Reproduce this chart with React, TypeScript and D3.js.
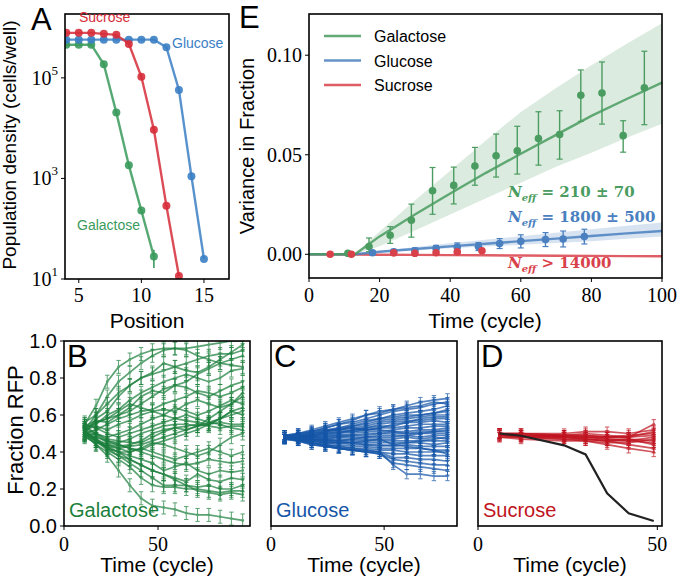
import React from 'react';
import * as d3 from 'd3';

const SANS = "'Liberation Sans', Arial, sans-serif";
const SERIF = "'Liberation Serif', 'Times New Roman', serif";
const MATH = "'DejaVu Serif', serif";

// ---------- Panel A ----------
const positionsA = [4, 5, 6, 7, 8, 9, 10, 11, 12, 13, 14, 15];
const sucroseDensity = [785000, 785000, 785000, 750000, 716000, 474000, 105000, 9250, 285, 11.5];
const glucoseDensity = [575000, 575000, 575000, 575000, 575000, 575000, 575000, 575000, 407000, 57500, 1100, 25];
const galactoseDensity = [457000, 457000, 457000, 186000, 20400, 1820, 229, 28];
const galactoseLastErr = [16.6, 38];
const xTicksA = [5, 10, 15];
const yTicksA = [1, 3, 5];

// ---------- Panel E ----------
const galT = [11, 17, 23, 29, 35, 41, 47, 53, 59, 65, 71, 77, 83, 89, 95];
const galV = [0.0005, 0.0039, 0.0096, 0.0171, 0.0319, 0.0346, 0.0443, 0.0495, 0.052, 0.0582, 0.0602, 0.0799, 0.081, 0.0596, 0.0836];
const galHi = [0.001, 0.0082, 0.0139, 0.0252, 0.0436, 0.0438, 0.0537, 0.0604, 0.0643, 0.0716, 0.0721, 0.0926, 0.0966, 0.0671, 0.102];
const galLo = [0, 0.0013, 0.0055, 0.0086, 0.0201, 0.0253, 0.0347, 0.0388, 0.0403, 0.0448, 0.0478, 0.0668, 0.0654, 0.0513, 0.0651];
const gluT = [18, 24, 30, 36, 42, 48, 54, 60, 67, 72, 78];
const gluV = [0.0008, 0.0013, 0.0018, 0.0029, 0.0037, 0.0039, 0.0054, 0.0065, 0.0074, 0.0077, 0.0089];
const gluErr = [0.001, 0.0012, 0.0014, 0.0016, 0.002, 0.002, 0.0025, 0.0033, 0.0035, 0.004, 0.0037];
const sucT = [6, 12, 24, 30, 36, 42, 49];
const sucV = [0, 0, 0.0007, 0.0005, 0.0008, 0.0012, 0.0018];
const fitT = [0, 13, 20, 30, 40, 50, 60, 70, 80, 90, 100];
const galFit = [0, 0, 0.009, 0.02, 0.0305, 0.0408, 0.0505, 0.06, 0.0695, 0.078, 0.0862];
const galUpper = [0, 0, 0.0115, 0.027, 0.042, 0.057, 0.0715, 0.0835, 0.095, 0.1058, 0.116];
const galLower = [0, 0, 0.004, 0.012, 0.02, 0.028, 0.036, 0.044, 0.051, 0.0585, 0.0656];
const gluFit = [0, 0, 0.0013, 0.0027, 0.004, 0.0053, 0.0066, 0.0079, 0.0092, 0.0105, 0.0117];
const gluUpper = [0, 0, 0.0017, 0.0037, 0.0055, 0.0073, 0.0091, 0.0108, 0.0126, 0.0143, 0.016];
const gluLower = [0, 0, 0.001, 0.002, 0.003, 0.0039, 0.0048, 0.0057, 0.0066, 0.0078, 0.0089];
const sucFit = [0, -0.0001, -0.0002, -0.0003, -0.0004, -0.0005, -0.0006, -0.0007, -0.0008, -0.0009, -0.001];
const xTicksE = [0, 20, 40, 60, 80, 100];
const yTicksE = [0, 0.05, 0.1];
const legendE = ['Galactose', 'Glucose', 'Sucrose'];

// ---------- Panels B, C, D ----------
const tB = [11, 17, 23, 29, 35, 41, 47, 53, 59, 65, 71, 77, 83, 89, 95];
const galactoseRuns = [
  [0.55, 0.65, 0.78, 0.86, 0.9, 0.93, 0.95, 0.96, 0.96, 0.96, 0.97, 0.98, 0.99, 1.0, 1.0],
  [0.52, 0.6, 0.7, 0.78, 0.83, 0.88, 0.92, 0.95, 0.96, 0.95, 0.92, 0.9, 0.88, 0.87, 0.86],
  [0.5, 0.58, 0.62, 0.7, 0.76, 0.8, 0.83, 0.88, 0.86, 0.84, 0.83, 0.86, 0.9, 0.94, 0.98],
  [0.53, 0.55, 0.6, 0.63, 0.68, 0.72, 0.75, 0.78, 0.8, 0.82, 0.8, 0.78, 0.8, 0.84, 0.85],
  [0.51, 0.56, 0.58, 0.6, 0.64, 0.7, 0.73, 0.72, 0.76, 0.78, 0.82, 0.85, 0.88, 0.9, 0.92],
  [0.54, 0.57, 0.56, 0.6, 0.62, 0.66, 0.7, 0.74, 0.76, 0.75, 0.72, 0.7, 0.73, 0.76, 0.78],
  [0.5, 0.52, 0.55, 0.58, 0.6, 0.62, 0.63, 0.66, 0.68, 0.7, 0.73, 0.72, 0.7, 0.72, 0.75],
  [0.52, 0.54, 0.52, 0.55, 0.57, 0.6, 0.62, 0.63, 0.62, 0.66, 0.68, 0.66, 0.64, 0.66, 0.7],
  [0.49, 0.5, 0.48, 0.5, 0.52, 0.55, 0.58, 0.6, 0.64, 0.62, 0.6, 0.62, 0.65, 0.68, 0.66],
  [0.55, 0.53, 0.5, 0.48, 0.5, 0.52, 0.54, 0.56, 0.58, 0.6, 0.58, 0.56, 0.58, 0.62, 0.6],
  [0.51, 0.48, 0.46, 0.45, 0.47, 0.5, 0.52, 0.54, 0.55, 0.55, 0.54, 0.55, 0.56, 0.55, 0.55],
  [0.5, 0.46, 0.44, 0.43, 0.44, 0.46, 0.5, 0.52, 0.53, 0.54, 0.55, 0.54, 0.53, 0.54, 0.54],
  [0.53, 0.5, 0.47, 0.46, 0.45, 0.45, 0.48, 0.51, 0.53, 0.52, 0.54, 0.56, 0.55, 0.53, 0.52],
  [0.48, 0.45, 0.43, 0.42, 0.43, 0.44, 0.46, 0.48, 0.5, 0.52, 0.54, 0.58, 0.62, 0.66, 0.72],
  [0.52, 0.49, 0.45, 0.44, 0.42, 0.41, 0.44, 0.46, 0.48, 0.5, 0.52, 0.55, 0.58, 0.62, 0.64],
  [0.5, 0.47, 0.44, 0.42, 0.4, 0.42, 0.45, 0.44, 0.42, 0.4, 0.38, 0.4, 0.44, 0.48, 0.5],
  [0.49, 0.46, 0.43, 0.4, 0.4, 0.42, 0.4, 0.38, 0.36, 0.38, 0.4, 0.42, 0.4, 0.38, 0.4],
  [0.54, 0.5, 0.46, 0.44, 0.42, 0.4, 0.38, 0.36, 0.34, 0.33, 0.34, 0.36, 0.35, 0.34, 0.35],
  [0.51, 0.47, 0.42, 0.4, 0.38, 0.36, 0.34, 0.3, 0.32, 0.34, 0.3, 0.28, 0.3, 0.29, 0.3],
  [0.5, 0.46, 0.41, 0.38, 0.36, 0.33, 0.3, 0.28, 0.26, 0.24, 0.28, 0.25, 0.24, 0.26, 0.25],
  [0.52, 0.46, 0.42, 0.38, 0.34, 0.3, 0.26, 0.22, 0.22, 0.22, 0.21, 0.22, 0.2, 0.2, 0.22],
  [0.49, 0.44, 0.4, 0.36, 0.32, 0.26, 0.22, 0.21, 0.21, 0.2, 0.2, 0.19, 0.18, 0.19, 0.19],
  [0.51, 0.47, 0.42, 0.4, 0.36, 0.33, 0.3, 0.28, 0.25, 0.22, 0.19, 0.18, 0.17, 0.18, 0.17],
  [0.5, 0.44, 0.38, 0.3, 0.22, 0.15, 0.11, 0.1, 0.09, 0.07, 0.06, 0.06, 0.05, 0.04, 0.03],
  [0.56, 0.6, 0.66, 0.72, 0.76, 0.8, 0.82, 0.84, 0.86, 0.88, 0.9, 0.92, 0.93, 0.93, 0.95],
  [0.53, 0.56, 0.58, 0.62, 0.66, 0.64, 0.62, 0.6, 0.58, 0.57, 0.56, 0.55, 0.58, 0.6, 0.62],
];
const errB = 0.035;

const tC = [6, 12, 18, 24, 30, 36, 42, 48, 54, 60, 66, 72, 78];
const glucoseRuns = [
  [0.49, 0.5, 0.52, 0.54, 0.56, 0.58, 0.6, 0.62, 0.63, 0.65, 0.67, 0.68, 0.69],
  [0.48, 0.5, 0.51, 0.53, 0.55, 0.56, 0.58, 0.6, 0.62, 0.63, 0.64, 0.66, 0.67],
  [0.47, 0.49, 0.5, 0.52, 0.53, 0.55, 0.57, 0.58, 0.6, 0.61, 0.62, 0.63, 0.65],
  [0.48, 0.49, 0.5, 0.51, 0.52, 0.54, 0.56, 0.58, 0.59, 0.6, 0.6, 0.61, 0.62],
  [0.49, 0.49, 0.51, 0.52, 0.52, 0.53, 0.54, 0.56, 0.57, 0.58, 0.59, 0.6, 0.6],
  [0.48, 0.48, 0.49, 0.5, 0.51, 0.52, 0.53, 0.55, 0.56, 0.57, 0.57, 0.58, 0.58],
  [0.47, 0.48, 0.49, 0.5, 0.5, 0.52, 0.53, 0.54, 0.54, 0.56, 0.56, 0.57, 0.56],
  [0.49, 0.48, 0.49, 0.49, 0.5, 0.51, 0.52, 0.53, 0.53, 0.54, 0.55, 0.55, 0.55],
  [0.48, 0.48, 0.48, 0.49, 0.49, 0.5, 0.51, 0.51, 0.52, 0.53, 0.53, 0.54, 0.54],
  [0.48, 0.49, 0.48, 0.48, 0.49, 0.49, 0.5, 0.5, 0.51, 0.51, 0.52, 0.52, 0.53],
  [0.47, 0.47, 0.48, 0.48, 0.48, 0.49, 0.49, 0.5, 0.5, 0.5, 0.51, 0.51, 0.51],
  [0.48, 0.48, 0.47, 0.47, 0.48, 0.48, 0.48, 0.49, 0.49, 0.49, 0.5, 0.5, 0.5],
  [0.49, 0.48, 0.48, 0.47, 0.47, 0.47, 0.48, 0.48, 0.48, 0.49, 0.48, 0.49, 0.49],
  [0.48, 0.47, 0.47, 0.46, 0.46, 0.47, 0.47, 0.47, 0.47, 0.48, 0.47, 0.48, 0.47],
  [0.47, 0.47, 0.46, 0.46, 0.46, 0.46, 0.46, 0.46, 0.46, 0.46, 0.46, 0.46, 0.46],
  [0.48, 0.47, 0.46, 0.45, 0.45, 0.45, 0.45, 0.45, 0.45, 0.45, 0.45, 0.44, 0.45],
  [0.48, 0.47, 0.46, 0.45, 0.45, 0.44, 0.44, 0.44, 0.43, 0.44, 0.43, 0.43, 0.43],
  [0.49, 0.47, 0.46, 0.45, 0.44, 0.43, 0.43, 0.42, 0.42, 0.42, 0.42, 0.41, 0.41],
  [0.48, 0.47, 0.45, 0.44, 0.43, 0.42, 0.42, 0.41, 0.41, 0.4, 0.4, 0.4, 0.4],
  [0.47, 0.46, 0.45, 0.44, 0.43, 0.42, 0.41, 0.4, 0.39, 0.39, 0.38, 0.38, 0.38],
  [0.48, 0.46, 0.45, 0.44, 0.42, 0.41, 0.4, 0.4, 0.37, 0.37, 0.36, 0.36, 0.35],
  [0.48, 0.46, 0.44, 0.43, 0.42, 0.41, 0.4, 0.39, 0.36, 0.35, 0.34, 0.33, 0.33],
  [0.47, 0.46, 0.44, 0.43, 0.42, 0.41, 0.4, 0.39, 0.34, 0.33, 0.32, 0.31, 0.3],
  [0.48, 0.47, 0.45, 0.43, 0.42, 0.41, 0.41, 0.4, 0.33, 0.28, 0.28, 0.27, 0.27],
  [0.49, 0.5, 0.51, 0.53, 0.55, 0.57, 0.6, 0.61, 0.63, 0.64, 0.65, 0.67, 0.66],
  [0.48, 0.49, 0.5, 0.51, 0.53, 0.54, 0.55, 0.57, 0.58, 0.59, 0.6, 0.61, 0.63],
  [0.47, 0.48, 0.49, 0.51, 0.52, 0.53, 0.52, 0.53, 0.55, 0.56, 0.58, 0.59, 0.59],
  [0.48, 0.48, 0.47, 0.47, 0.46, 0.45, 0.46, 0.47, 0.44, 0.43, 0.42, 0.41, 0.39],
  [0.49, 0.48, 0.47, 0.46, 0.45, 0.45, 0.44, 0.43, 0.44, 0.45, 0.46, 0.47, 0.48],
  [0.48, 0.49, 0.49, 0.5, 0.51, 0.51, 0.52, 0.52, 0.51, 0.5, 0.5, 0.51, 0.52],
];
const errC = 0.025;

const tD = [6, 12, 24, 30, 36, 42, 49];
const sucroseRuns = [
  [0.5, 0.49, 0.49, 0.49, 0.48, 0.48, 0.55],
  [0.49, 0.49, 0.48, 0.48, 0.47, 0.47, 0.46],
  [0.5, 0.5, 0.49, 0.49, 0.48, 0.49, 0.5],
  [0.49, 0.48, 0.47, 0.46, 0.44, 0.42, 0.4],
  [0.5, 0.49, 0.48, 0.47, 0.46, 0.44, 0.42],
  [0.48, 0.48, 0.47, 0.47, 0.46, 0.46, 0.45],
  [0.5, 0.5, 0.5, 0.51, 0.51, 0.5, 0.52],
  [0.49, 0.49, 0.49, 0.48, 0.48, 0.48, 0.49],
  [0.48, 0.47, 0.46, 0.46, 0.45, 0.45, 0.47],
  [0.5, 0.49, 0.48, 0.48, 0.47, 0.46, 0.48],
  [0.49, 0.48, 0.48, 0.47, 0.46, 0.47, 0.44],
  [0.5, 0.5, 0.49, 0.5, 0.49, 0.48, 0.51],
];
const sucroseBlack = [0.5, 0.488, 0.436, 0.387, 0.177, 0.069, 0.027];
const errD = 0.025;
const yTicksB = [0, 0.2, 0.4, 0.6, 0.8, 1.0];

// colours
const A_RED = '#d62d3a';
const A_BLUE = '#3b7fc4';
const A_GREEN = '#3a9a5c';
const E_GREEN = '#4a9c60';
const E_BLUE = '#4a80c0';
const E_RED = '#d9414a';
const B_GREEN = '#1b7f3c';
const C_BLUE = '#1556a8';
const D_RED = '#c01420';

type P = [number, number];

function Frame({ x0, x1, y0, y1 }: { x0: number; x1: number; y0: number; y1: number }) {
  return <rect x={x0} y={y0} width={x1 - x0} height={y1 - y0} fill="none" stroke="#000" strokeWidth={1.6} />;
}

function PanelA() {
  const x = d3.scaleLinear().domain([3.9, 17]).range([65, 229]);
  const y = d3.scaleLog().domain([10, Math.pow(10, 6.27)]).range([279, 14]);
  const line = d3.line<P>().x(d => x(d[0])).y(d => y(d[1]));
  const series = [
    { vals: galactoseDensity, color: A_GREEN },
    { vals: glucoseDensity, color: A_BLUE },
    { vals: sucroseDensity, color: A_RED },
  ];
  return (
    <g>
      <defs>
        <clipPath id="clipA"><rect x={65} y={14} width={164} height={265} /></clipPath>
      </defs>
      <g clipPath="url(#clipA)">
        {series.map((s, i) => {
          const pts: P[] = s.vals.map((v, j) => [positionsA[j], v]);
          return (
            <g key={i}>
              <path d={line(pts) || ''} fill="none" stroke={s.color} strokeWidth={2.4} opacity={0.85} />
              {pts.map((p, j) => (
                <circle key={j} cx={x(p[0])} cy={y(p[1])} r={4} fill={s.color} opacity={0.9} />
              ))}
            </g>
          );
        })}
        <line x1={x(11)} x2={x(11)} y1={y(galactoseLastErr[0])} y2={y(galactoseLastErr[1])} stroke={A_GREEN} strokeWidth={1.6} />
      </g>
      <Frame x0={65} x1={229} y0={14} y1={279} />
      {xTicksA.map(t => (
        <g key={t}>
          <line x1={x(t)} x2={x(t)} y1={279} y2={283} stroke="#000" />
          <text x={x(t)} y={302} textAnchor="middle" fontFamily={SERIF} fontSize={20}>{t}</text>
        </g>
      ))}
      {yTicksA.map(e => (
        <g key={e}>
          <line x1={61} x2={65} y1={y(Math.pow(10, e))} y2={y(Math.pow(10, e))} stroke="#000" />
          <text x={58} y={y(Math.pow(10, e)) + 7} textAnchor="end" fontFamily={SERIF} fontSize={20}>
            10<tspan fontSize={13} dy={-10}>{e}</tspan>
          </text>
        </g>
      ))}
      <text x={147} y={328} textAnchor="middle" fontFamily={SANS} fontSize={21}>Position</text>
      <text transform="translate(16,145) rotate(-90)" textAnchor="middle" fontFamily={SANS} fontSize={19}>Population density (cells/well)</text>
      <text x={31} y={30} fontFamily={SANS} fontSize={31}>A</text>
      <text x={79} y={22} fontFamily={SANS} fontSize={14} fill={A_RED}>Sucrose</text>
      <text x={172} y={48} fontFamily={SANS} fontSize={14} fill={A_BLUE}>Glucose</text>
      <text x={77} y={230} fontFamily={SANS} fontSize={14} fill={A_GREEN}>Galactose</text>
    </g>
  );
}

function PanelE() {
  const x = d3.scaleLinear().domain([0, 100]).range([309, 662]);
  const y = d3.scaleLinear().domain([-0.0119, 0.1207]).range([278, 14]);
  const line = d3.line<P>().x(d => x(d[0])).y(d => y(d[1]));
  const area = d3.area<[number, number, number]>().x(d => x(d[0])).y0(d => y(d[1])).y1(d => y(d[2]));
  const galBand = fitT.map((t, i) => [t, galLower[i], galUpper[i]] as [number, number, number]);
  const gluBand = fitT.map((t, i) => [t, gluLower[i], gluUpper[i]] as [number, number, number]);
  const cap = 3;
  return (
    <g>
      <defs>
        <clipPath id="clipE"><rect x={309} y={14} width={353} height={264} /></clipPath>
      </defs>
      <g clipPath="url(#clipE)">
        <path d={area(galBand) || ''} fill={E_GREEN} opacity={0.2} />
        <path d={area(gluBand) || ''} fill={E_BLUE} opacity={0.22} />
        <path d={line(fitT.map((t, i) => [t, sucFit[i]] as P)) || ''} fill="none" stroke={E_RED} strokeWidth={2.4} opacity={0.85} />
        <path d={line(fitT.map((t, i) => [t, gluFit[i]] as P)) || ''} fill="none" stroke={E_BLUE} strokeWidth={2.4} opacity={0.85} />
        <path d={line(fitT.map((t, i) => [t, galFit[i]] as P)) || ''} fill="none" stroke={E_GREEN} strokeWidth={2.4} opacity={0.85} />
        {galT.map((t, i) => (
          <g key={'g' + i}>
            <line x1={x(t)} x2={x(t)} y1={y(galLo[i])} y2={y(galHi[i])} stroke={E_GREEN} strokeWidth={1.4} />
            <line x1={x(t) - cap} x2={x(t) + cap} y1={y(galLo[i])} y2={y(galLo[i])} stroke={E_GREEN} strokeWidth={1.2} />
            <line x1={x(t) - cap} x2={x(t) + cap} y1={y(galHi[i])} y2={y(galHi[i])} stroke={E_GREEN} strokeWidth={1.2} />
            <circle cx={x(t)} cy={y(galV[i])} r={3.8} fill={E_GREEN} />
          </g>
        ))}
        {gluT.map((t, i) => (
          <g key={'b' + i}>
            <line x1={x(t)} x2={x(t)} y1={y(gluV[i] - gluErr[i])} y2={y(gluV[i] + gluErr[i])} stroke={E_BLUE} strokeWidth={1.4} />
            <line x1={x(t) - cap} x2={x(t) + cap} y1={y(gluV[i] - gluErr[i])} y2={y(gluV[i] - gluErr[i])} stroke={E_BLUE} strokeWidth={1.2} />
            <line x1={x(t) - cap} x2={x(t) + cap} y1={y(gluV[i] + gluErr[i])} y2={y(gluV[i] + gluErr[i])} stroke={E_BLUE} strokeWidth={1.2} />
            <circle cx={x(t)} cy={y(gluV[i])} r={3.8} fill={E_BLUE} />
          </g>
        ))}
        {sucT.map((t, i) => (
          <circle key={'r' + i} cx={x(t)} cy={y(sucV[i])} r={3.8} fill={E_RED} />
        ))}
      </g>
      <Frame x0={309} x1={662} y0={14} y1={278} />
      {xTicksE.map(t => (
        <g key={t}>
          <line x1={x(t)} x2={x(t)} y1={278} y2={282} stroke="#000" />
          <text x={x(t)} y={302} textAnchor="middle" fontFamily={SERIF} fontSize={20}>{t}</text>
        </g>
      ))}
      {yTicksE.map(t => (
        <g key={t}>
          <line x1={305} x2={309} y1={y(t)} y2={y(t)} stroke="#000" />
          <text x={302} y={y(t) + 7} textAnchor="end" fontFamily={SERIF} fontSize={20}>{t.toFixed(2)}</text>
        </g>
      ))}
      <text x={485} y={328} textAnchor="middle" fontFamily={SANS} fontSize={21}>Time (cycle)</text>
      <text transform="translate(254,146) rotate(-90)" textAnchor="middle" fontFamily={SANS} fontSize={20}>Variance in Fraction</text>
      <text x={239} y={28} fontFamily={SANS} fontSize={31}>E</text>
      {legendE.map((name, i) => {
        const c = [E_GREEN, E_BLUE, E_RED][i];
        const ly = 36 + i * 24.5;
        return (
          <g key={name}>
            <line x1={324} x2={361} y1={ly} y2={ly} stroke={c} strokeWidth={2.4} opacity={0.85} />
            <text x={374} y={ly + 6} fontFamily={SANS} fontSize={16}>{name}</text>
          </g>
        );
      })}
      <text x={508} y={197} fill={E_GREEN} fontFamily={MATH} fontWeight="bold" fontSize={15} style={{ whiteSpace: 'pre' }}>
        <tspan fontStyle="italic">N</tspan><tspan fontStyle="italic" fontSize={10} dy={4}>eff</tspan><tspan dy={-4}>{' = 210 ± 70'}</tspan>
      </text>
      <text x={508} y={222} fill={E_BLUE} fontFamily={MATH} fontWeight="bold" fontSize={15} style={{ whiteSpace: 'pre' }}>
        <tspan fontStyle="italic">N</tspan><tspan fontStyle="italic" fontSize={10} dy={4}>eff</tspan><tspan dy={-4}>{' = 1800 ± 500'}</tspan>
      </text>
      <text x={508} y={268} fill={E_RED} fontFamily={MATH} fontWeight="bold" fontSize={15} style={{ whiteSpace: 'pre' }}>
        <tspan fontStyle="italic">N</tspan><tspan fontStyle="italic" fontSize={10} dy={4}>eff</tspan><tspan dy={-4}>{' > 14000'}</tspan>
      </text>
    </g>
  );
}

function TrajPanel(props: {
  id: string; x0: number; x1: number; xMax: number; times: number[]; runs: number[][]; err: number;
  color: string; letter: string; label: string; showY: boolean; black?: number[];
}) {
  const { id, x0, x1, xMax, times, runs, err, color, letter, label, showY, black } = props;
  const y0 = 341, y1 = 526;
  const x = d3.scaleLinear().domain([0, xMax]).range([x0, x1]);
  const y = d3.scaleLinear().domain([0, 1]).range([y1, y0]);
  const line = d3.line<P>().x(d => x(d[0])).y(d => y(d[1]));
  const cap = 2.2;
  return (
    <g>
      <defs>
        <clipPath id={id}><rect x={x0} y={y0} width={x1 - x0} height={y1 - y0} /></clipPath>
      </defs>
      <g clipPath={`url(#${id})`}>
        {runs.map((r, i) => (
          <g key={i} opacity={0.72}>
            <path d={line(r.map((v, j) => [times[j], v] as P)) || ''} fill="none" stroke={color} strokeWidth={1.7} />
            {r.map((v, j) => (
              <g key={j}>
                <line x1={x(times[j])} x2={x(times[j])} y1={y(v - err)} y2={y(v + err)} stroke={color} strokeWidth={1} />
                <line x1={x(times[j]) - cap} x2={x(times[j]) + cap} y1={y(v - err)} y2={y(v - err)} stroke={color} strokeWidth={1} />
                <line x1={x(times[j]) - cap} x2={x(times[j]) + cap} y1={y(v + err)} y2={y(v + err)} stroke={color} strokeWidth={1} />
                <circle cx={x(times[j])} cy={y(v)} r={1.4} fill={color} />
              </g>
            ))}
          </g>
        ))}
        {black && (
          <path d={line(black.map((v, j) => [times[j], v] as P)) || ''} fill="none" stroke="#222" strokeWidth={2.2} />
        )}
      </g>
      <Frame x0={x0} x1={x1} y0={y0} y1={y1} />
      {[0, 50].map(t => (
        <g key={t}>
          <line x1={x(t)} x2={x(t)} y1={y1} y2={y1 + 4} stroke="#000" />
          <text x={x(t)} y={551} textAnchor="middle" fontFamily={SERIF} fontSize={20}>{t}</text>
        </g>
      ))}
      {showY && yTicksB.map(t => (
        <g key={t}>
          <line x1={x0 - 4} x2={x0} y1={y(t)} y2={y(t)} stroke="#000" />
          <text x={57} y={y(t) + 7} textAnchor="end" fontFamily={SANS} fontSize={20}>{t.toFixed(1)}</text>
        </g>
      ))}
      <text x={(x0 + x1) / 2} y={572} textAnchor="middle" fontFamily={SANS} fontSize={21}>Time (cycle)</text>
      <text x={x0 + 3} y={367} fontFamily={SANS} fontSize={31}>{letter}</text>
      <text x={x0 + 5} y={517} fontFamily={SANS} fontSize={20} fill={color}>{label}</text>
    </g>
  );
}

export default function App() {
  return (
    <svg width={677} height={582} style={{ position: 'absolute', left: 0, top: 0, background: '#fff' }}>
      <rect width={677} height={582} fill="#fff" />
      <PanelA />
      <PanelE />
      <TrajPanel id="clipB" x0={64} x1={250} xMax={98.9} times={tB} runs={galactoseRuns} err={errB} color={B_GREEN} letter="B" label="Galactose" showY={true} />
      <TrajPanel id="clipC" x0={271} x1={457} xMax={82.2} times={tC} runs={glucoseRuns} err={errC} color={C_BLUE} letter="C" label="Glucose" showY={false} />
      <TrajPanel id="clipD" x0={478} x1={662} xMax={51.3} times={tD} runs={sucroseRuns} err={errD} color={D_RED} letter="D" label="Sucrose" showY={false} black={sucroseBlack} />
      <text transform="translate(23,430) rotate(-90)" textAnchor="middle" fontFamily={SANS} fontSize={22}>Fraction RFP</text>
    </svg>
  );
}
